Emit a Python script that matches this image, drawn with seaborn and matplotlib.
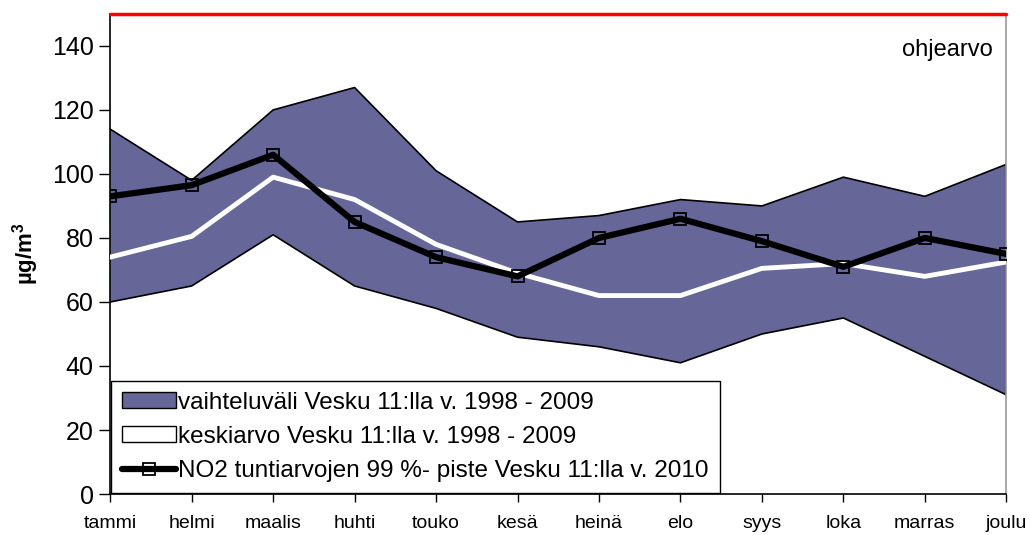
import numpy as np
import pandas as pd
import matplotlib
matplotlib.use("Agg")
import matplotlib.pyplot as plt
import seaborn as sns
from matplotlib.patches import Patch
from matplotlib.lines import Line2D

months = ["tammi", "helmi", "maalis", "huhti", "touko", "kesä", "heinä", "elo",
          "syys", "loka", "marras", "joulu"]
range_max = [114, 98, 120, 127, 101, 85, 87, 92, 90, 99, 93, 103]
range_min = [60, 65, 81, 65, 58, 49, 46, 41, 50, 55, 43, 31]
mean_9809 = [74, 80.5, 99, 92, 78, 69, 62, 62, 70.5, 72, 68, 72.5]
no2_2010 = [93, 96.5, 106, 85, 74, 68, 80, 86, 79, 71, 80, 75]
guide_value = 150

sns.set_theme(style="white")
plt.rcParams['font.family'] = ['Liberation Sans', 'DejaVu Sans']
plt.rcParams['text.color'] = 'black'
plt.rcParams['xtick.color'] = 'black'
plt.rcParams['ytick.color'] = 'black'
plt.rcParams['axes.labelcolor'] = 'black'

fig = plt.figure(figsize=(10.3, 5.35), dpi=100)
ax = fig.add_axes([0.107, 0.0766, 0.870, 0.8974])

df = pd.DataFrame({"x": np.arange(len(months)), "mean": mean_9809, "no2": no2_2010,
                   "mn": range_min, "mx": range_max})

fill_col = "#666699"
ax.fill_between(df["x"], df["mn"], df["mx"], facecolor=fill_col, edgecolor="none", zorder=1)
sns.lineplot(data=df, x="x", y="mx", ax=ax, color="black", linewidth=1.2, zorder=2)
sns.lineplot(data=df, x="x", y="mn", ax=ax, color="black", linewidth=1.2, zorder=2)
ax.plot([df["x"].iloc[-1]] * 2, [range_min[-1], range_max[-1]], color="black", lw=1.5, zorder=2)
sns.lineplot(data=df, x="x", y="mean", ax=ax, color="white", linewidth=3.5, zorder=3)
sns.lineplot(data=df, x="x", y="no2", ax=ax, color="black", linewidth=4.5, zorder=4,
             marker="s", markersize=9, markerfacecolor="none", markeredgecolor="black",
             markeredgewidth=1.3)
ax.axhline(guide_value, color="#ff0000", linewidth=2.5, zorder=5, clip_on=False)

ax.set_xlim(0, len(months) - 1)
ax.set_ylim(0, 150)
ax.set_yticks(np.arange(0, 141, 20))
ax.set_xticks(np.arange(len(months)))
ax.set_xticklabels(months, fontsize=14)
ax.tick_params(axis="y", labelsize=18, length=8, width=1, direction="out", left=True, pad=4)
ax.tick_params(axis="x", length=6, width=1, direction="out", bottom=True, pad=9)
ax.set_xlabel("")
ax.set_ylabel("µg/m$^\\mathregular{3}$", fontsize=16, fontweight="bold", labelpad=8)

for s in ["left", "bottom"]:
    ax.spines[s].set_color("black")
    ax.spines[s].set_linewidth(1.2)
ax.spines["top"].set_visible(False)
ax.spines["right"].set_color("#999999")
ax.spines["right"].set_linewidth(1.2)

ax.text(0.985, 0.925, "ohjearvo", transform=ax.transAxes, ha="right", va="center", fontsize=17)

handles = [
    Patch(facecolor=fill_col, edgecolor="black", linewidth=1),
    Patch(facecolor="white", edgecolor="black", linewidth=1),
    Line2D([0], [0], color="black", lw=4.5, marker="s", markersize=9,
           markerfacecolor="none", markeredgecolor="black", markeredgewidth=1.3),
]
labels = ["vaihteluväli Vesku 11:lla v. 1998 - 2009",
          "keskiarvo Vesku 11:lla v. 1998 - 2009",
          "NO2 tuntiarvojen 99 %- piste Vesku 11:lla v. 2010"]
leg = ax.legend(handles, labels, loc="lower left", bbox_to_anchor=(0.0, 0.0), fontsize=17.5,
                frameon=True, fancybox=False, framealpha=1, edgecolor="black",
                handlelength=2.2, handleheight=0.6, handletextpad=0.1, labelspacing=0.5,
                borderpad=0.45, borderaxespad=0.05)
leg.get_frame().set_linewidth(1.0)

fig.savefig("out.png", dpi=100)
